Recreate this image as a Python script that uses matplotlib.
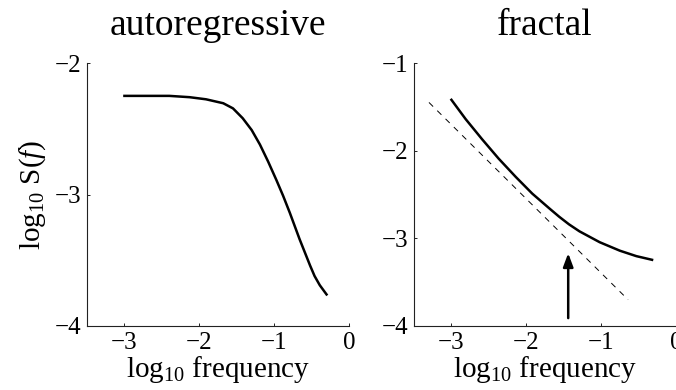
import matplotlib
matplotlib.use('Agg')
import matplotlib.pyplot as plt

plt.rcParams['font.family'] = 'Liberation Serif'
plt.rcParams['mathtext.fontset'] = 'custom'
plt.rcParams['mathtext.rm'] = 'Liberation Serif'
plt.rcParams['mathtext.it'] = 'Liberation Serif:italic'
plt.rcParams['axes.unicode_minus'] = True

# autoregressive spectrum (log10 frequency vs log10 S(f))
ar_logf = [-3.0, -2.6, -2.4, -2.13, -1.91, -1.68, -1.55, -1.42, -1.30, -1.19,
           -1.08, -0.97, -0.88, -0.79, -0.66, -0.52, -0.46, -0.39, -0.30]
ar_logS = [-2.25, -2.25, -2.25, -2.26, -2.276, -2.306, -2.345, -2.42, -2.51, -2.62,
           -2.75, -2.89, -3.01, -3.14, -3.34, -3.54, -3.62, -3.69, -3.76]

# fractal spectrum
fr_logf = [-3.0, -2.81, -2.59, -2.37, -2.14, -1.92, -1.69, -1.56, -1.43, -1.29,
           -1.02, -0.75, -0.53, -0.32]
fr_logS = [-1.42, -1.64, -1.87, -2.09, -2.30, -2.49, -2.66, -2.754, -2.84, -2.92,
           -3.044, -3.141, -3.203, -3.245]

# power-law reference line
fit_logf = [-3.30, -0.64]
fit_logS = [-1.45, -3.70]

# arrow marking the crossover
arrow_x = -1.44
arrow_tail, arrow_tip = -3.91, -3.17

fig = plt.figure(figsize=(6.76, 3.9), dpi=100)
ax1 = fig.add_axes([87 / 676, 64 / 390, 262 / 676, 263 / 390])
ax2 = fig.add_axes([414 / 676, 64 / 390, 262 / 676, 263 / 390])

ax1.plot(ar_logf, ar_logS, color='black', lw=1.8, solid_joinstyle='round')
ax2.plot(fr_logf, fr_logS, color='black', lw=1.8, solid_joinstyle='round')
ax2.plot(fit_logf, fit_logS, color='black', lw=0.7, dashes=(6, 6))
ax2.annotate('', xy=(arrow_x, arrow_tip), xytext=(arrow_x, arrow_tail),
             arrowprops=dict(arrowstyle='-|>,head_length=0.8,head_width=0.3',
                             color='black', lw=1.8, shrinkA=0, shrinkB=0))

for ax, title, ylim, yticks in [(ax1, 'autoregressive', (-4, -2), [-4, -3, -2]),
                                (ax2, 'fractal', (-4, -1), [-4, -3, -2, -1])]:
    ax.set_xlim(-3.5, 0)
    ax.set_ylim(*ylim)
    ax.set_xticks([-3, -2, -1, 0])
    ax.set_yticks(yticks)
    ax.spines['top'].set_visible(False)
    ax.spines['right'].set_visible(False)
    for s in ('left', 'bottom'):
        ax.spines[s].set_linewidth(0.8)
        ax.spines[s].set_color('#222222')
    ax.tick_params(direction='in', length=2.5, width=0.7, labelsize=18,
                   pad=4, colors='#222222', labelcolor='black')
    ax.set_title(title, fontsize=27, pad=20)
    ax.set_xlabel(r'log$_{10}$ frequency', fontsize=21, labelpad=0)

ax1.set_ylabel(r'log$_{10}$ S($f$)', fontsize=21, labelpad=5)

fig.savefig('out.png', dpi=100)
